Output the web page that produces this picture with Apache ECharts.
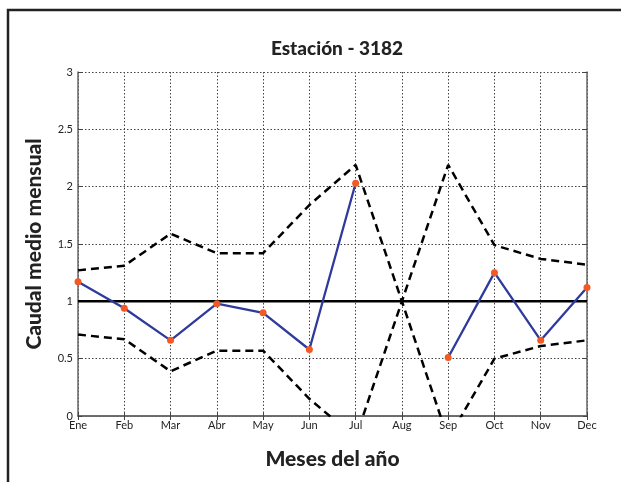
<!DOCTYPE html>
<html>
<head>
<meta charset="utf-8">
<script src="https://cdn.jsdelivr.net/npm/echarts@6/dist/echarts.min.js"></script>
<style>
html,body{margin:0;padding:0;background:#fff;}
#main{width:621px;height:482px;}
</style>
</head>
<body>
<div id="main"></div>
<script>
var meses=['Ene','Feb','Mar','Abr','May','Jun','Jul','Aug','Sep','Oct','Nov','Dec'];
// caudal medio mensual (Aug sin dato)
var caudal=[1.17,0.94,0.66,0.98,0.90,0.58,2.03,null,0.51,1.25,0.66,1.12];
// bandas superior e inferior
var bandaSup=[1.27,1.31,1.59,1.42,1.42,1.84,2.19,1.0,2.19,1.49,1.37,1.32];
var bandaInf=[0.71,0.67,0.39,0.57,0.57,0.15,-0.19,1.0,-0.2,0.50,0.61,0.66];
var referencia=[1,1,1,1,1,1,1,1,1,1,1,1];
var yTicks=[0,0.5,1,1.5,2,2.5,3];

var mychart=echarts.init(document.getElementById('main'));
var fuente='Lato';
var option={
	animation:false,
	backgroundColor:'#fff',
	title:{
		text:'Estación - 3182',
		left:332,
		textAlign:'center',
		top:34,
		textStyle:{fontFamily:fuente,fontWeight:900,fontSize:19,color:'#222'}
	},
	grid:{left:78,right:34,top:72,bottom:66},
	xAxis:[{
		type:'category',
		data:meses,
		boundaryGap:false,
		name:'Meses del año',
		nameLocation:'middle',
		nameGap:33,
		nameTextStyle:{fontFamily:fuente,fontWeight:900,fontSize:21,color:'#222'},
		axisLine:{lineStyle:{color:'#666',width:1.5}},
		axisTick:{inside:true,length:4,lineStyle:{color:'#444'}},
		axisLabel:{fontFamily:fuente,fontSize:11,color:'#222',margin:4},
		splitLine:{show:true,lineStyle:{type:[1.5,2],color:'#444',width:1}}
	},{
		type:'category',
		data:meses,
		boundaryGap:false,
		position:'top',
		axisLine:{lineStyle:{color:'#666',width:1.5}},
		axisTick:{inside:true,length:4,lineStyle:{color:'#444'}},
		axisLabel:{show:false}
	}],
	yAxis:[{
		type:'value',
		min:0,max:3,interval:0.5,
		name:'Caudal medio mensual',
		nameLocation:'middle',
		nameGap:33,
		nameTextStyle:{fontFamily:fuente,fontWeight:900,fontSize:21,color:'#222'},
		axisLine:{show:true,lineStyle:{color:'#666',width:1.5}},
		axisTick:{show:true,inside:true,length:4,lineStyle:{color:'#444'}},
		axisLabel:{fontFamily:fuente,fontSize:11,color:'#222',margin:5,
			formatter:function(v){return yTicks.indexOf(v)>=0?String(v):'';}},
		splitLine:{show:true,lineStyle:{type:[1.5,2],color:'#444',width:1}}
	},{
		type:'value',
		min:0,max:3,interval:0.5,
		position:'right',
		axisLine:{show:true,lineStyle:{color:'#666',width:1.5}},
		axisTick:{show:true,inside:true,length:4,lineStyle:{color:'#444'}},
		axisLabel:{show:false},
		splitLine:{show:false}
	}],
	series:[{
		type:'line',
		data:referencia,
		symbol:'none',
		lineStyle:{color:'#000',width:2.5},
		z:2
	},{
		type:'line',
		data:bandaSup,
		symbol:'none',
		clip:true,
		lineStyle:{color:'#000',width:2.5,type:[8,5]},
		z:3
	},{
		type:'line',
		data:bandaInf,
		symbol:'none',
		clip:true,
		lineStyle:{color:'#000',width:2.5,type:[8,5]},
		z:3
	},{
		type:'line',
		data:caudal,
		connectNulls:false,
		symbol:'circle',
		symbolSize:7,
		showAllSymbol:true,
		itemStyle:{color:'#f15a24'},
		lineStyle:{color:'#2e3a9c',width:2.3},
		z:4
	}],
	graphic:[{
		type:'polyline',
		shape:{points:[[8,482],[8,10],[621,10]]},
		style:{stroke:'#222',lineWidth:2.5,fill:null}
	}]
};
mychart.setOption(option);
</script>
</body>
</html>
